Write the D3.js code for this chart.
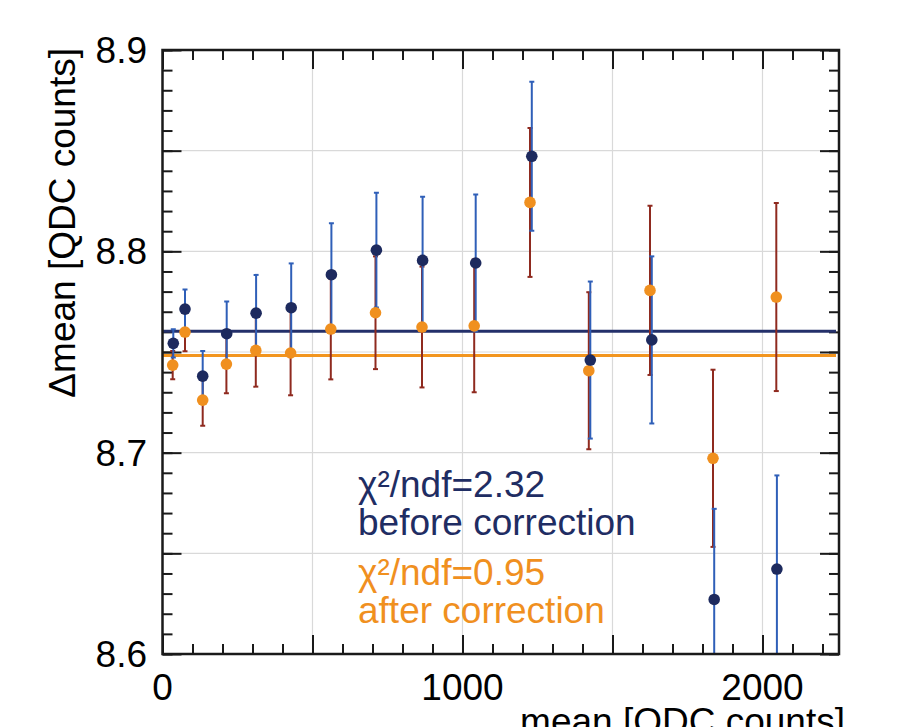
<!DOCTYPE html>
<html>
<head>
<meta charset="utf-8">
<script src="https://cdn.jsdelivr.net/npm/d3@7"></script>
<style>
  html, body { margin: 0; padding: 0; background: #fff; }
  text { font-family: "Liberation Sans", Arial, Helvetica, sans-serif; }
</style>
</head>
<body>
<svg id="chart" width="897" height="727"></svg>
<script>
// ---------------- data ----------------
const beforeX   = [36, 75, 134, 214, 312, 429, 563, 713, 867, 1044, 1231, 1426, 1631, 1839, 2048];
const beforeY   = [8.7543, 8.7713, 8.738, 8.7591, 8.7693, 8.772, 8.7884, 8.8006, 8.7955, 8.7942, 8.8472, 8.746, 8.756, 8.6271, 8.6422];
const beforeErr = [0.007, 0.0098, 0.0125, 0.016, 0.019, 0.022, 0.0255, 0.0285, 0.0316, 0.034, 0.037, 0.039, 0.0415, 0.045, 0.0465];

const afterX    = [34, 75, 134, 213, 311, 427, 561, 710, 865, 1039, 1225, 1421, 1625, 1835, 2046];
const afterY    = [8.7435, 8.7599, 8.7261, 8.744, 8.7508, 8.7495, 8.7614, 8.7695, 8.7624, 8.763, 8.8243, 8.7407, 8.7806, 8.6972, 8.7773];
const afterErr  = [0.007, 0.0095, 0.0127, 0.0145, 0.018, 0.021, 0.025, 0.028, 0.030, 0.033, 0.037, 0.039, 0.042, 0.044, 0.0467];

const fitBefore = 8.7603;
const fitAfter  = 8.7483;

const xDomain = [0, 2255];
const yDomain = [8.6, 8.9];
const xMajorTicks = [0, 500, 1000, 1500, 2000];
const xLabelTicks = [0, 1000, 2000];
const yMajorTicks = [8.6, 8.65, 8.7, 8.75, 8.8, 8.85, 8.9];
const yLabelTicks = [8.6, 8.7, 8.8, 8.9];

const legendLines = [
  { text: "χ²/ndf=2.32", series: "before" },
  { text: "before correction", series: "before" },
  { text: "χ²/ndf=0.95", series: "after" },
  { text: "after correction", series: "after" }
];
const xTitle = "mean [QDC counts]";
const yTitle = "Δmean [QDC counts]";

// ---------------- styles ----------------
const C = {
  beforePt: "#1d2a5e", beforeBar: "#2f5fb8", beforeLine: "#24306a",
  afterPt: "#f0901f", afterBar: "#8f2a1f", afterLine: "#f2951f",
  grid: "#d9d9d9", frame: "#1a1a1a",
  beforeText: "#1f2d63", afterText: "#f0901f"
};

const L = 162.5, R = 839, T = 50, B = 654;
const svg = d3.select("#chart");
const x = d3.scaleLinear().domain(xDomain).range([L, R]);
const y = d3.scaleLinear().domain(yDomain).range([B, T]);

const xMinor = d3.range(0, 2255, 100);
const yMinor = d3.range(0, 31).map(i => +(8.6 + i * 0.01).toFixed(2));

// grid
const g = svg.append("g");
g.selectAll("line.gx").data(xMajorTicks.filter(v => v > 0)).join("line")
  .attr("x1", d => x(d)).attr("x2", d => x(d)).attr("y1", T).attr("y2", B)
  .attr("stroke", C.grid).attr("stroke-width", 1.2);
g.selectAll("line.gy").data(yMajorTicks.filter(v => v > 8.6 && v < 8.9)).join("line")
  .attr("x1", L).attr("x2", R).attr("y1", d => y(d)).attr("y2", d => y(d))
  .attr("stroke", C.grid).attr("stroke-width", 1.2);

// axes (inward ticks)
function styleAxis(sel, w) {
  sel.select(".domain").remove();
  sel.selectAll(".tick line").attr("stroke", C.frame).attr("stroke-width", w);
  sel.selectAll(".tick text").remove();
}
const tickW = 2;
svg.append("g").attr("transform", `translate(${L},0)`)
  .call(d3.axisLeft(y).tickValues(yMinor).tickSize(-10)).call(s => styleAxis(s, tickW));
svg.append("g").attr("transform", `translate(${L},0)`)
  .call(d3.axisLeft(y).tickValues(yMajorTicks).tickSize(-19)).call(s => styleAxis(s, tickW));
svg.append("g").attr("transform", `translate(${R},0)`)
  .call(d3.axisRight(y).tickValues(yMinor).tickSize(-10)).call(s => styleAxis(s, tickW));
svg.append("g").attr("transform", `translate(${R},0)`)
  .call(d3.axisRight(y).tickValues(yMajorTicks).tickSize(-19)).call(s => styleAxis(s, tickW));
svg.append("g").attr("transform", `translate(0,${B})`)
  .call(d3.axisBottom(x).tickValues(xMinor).tickSize(-10)).call(s => styleAxis(s, tickW));
svg.append("g").attr("transform", `translate(0,${B})`)
  .call(d3.axisBottom(x).tickValues(xMajorTicks).tickSize(-19)).call(s => styleAxis(s, tickW));
svg.append("g").attr("transform", `translate(0,${T})`)
  .call(d3.axisTop(x).tickValues(xMinor).tickSize(-10)).call(s => styleAxis(s, tickW));
svg.append("g").attr("transform", `translate(0,${T})`)
  .call(d3.axisTop(x).tickValues(xMajorTicks).tickSize(-19)).call(s => styleAxis(s, tickW));

// tick labels
svg.append("g").selectAll("text").data(yLabelTicks).join("text")
  .attr("x", 147).attr("y", d => y(d)).attr("dy", "0.35em")
  .attr("text-anchor", "end").attr("font-size", 37).attr("fill", "#000")
  .text(d => d3.format(".1f")(d));
svg.append("g").selectAll("text").data(xLabelTicks).join("text")
  .attr("x", d => x(d)).attr("y", 700)
  .attr("text-anchor", "middle").attr("font-size", 37).attr("fill", "#000")
  .text(d => d);

// titles
svg.append("text").attr("x", 845).attr("y", 734).attr("text-anchor", "end")
  .attr("font-size", 37).attr("fill", "#000").text(xTitle);
svg.append("text").attr("transform", "translate(75,48) rotate(-90)")
  .attr("text-anchor", "end").attr("font-size", 37).attr("fill", "#000").text(yTitle);

// clip
svg.append("clipPath").attr("id", "plot").append("rect")
  .attr("x", L).attr("y", T).attr("width", R - L).attr("height", B - T);
const plot = svg.append("g").attr("clip-path", "url(#plot)");

// fit lines
plot.append("line").attr("x1", x(0)).attr("x2", x(2245))
  .attr("y1", y(fitBefore)).attr("y2", y(fitBefore))
  .attr("stroke", C.beforeLine).attr("stroke-width", 3);
plot.append("line").attr("x1", x(0)).attr("x2", x(2245))
  .attr("y1", y(fitAfter)).attr("y2", y(fitAfter))
  .attr("stroke", C.afterLine).attr("stroke-width", 3);

const before = beforeX.map((v, i) => ({ x: v, y: beforeY[i], e: beforeErr[i] }));
const after  = afterX.map((v, i) => ({ x: v, y: afterY[i], e: afterErr[i] }));

function errBars(data, color) {
  const gg = plot.append("g");
  gg.selectAll("line.v").data(data).join("line")
    .attr("x1", d => x(d.x)).attr("x2", d => x(d.x))
    .attr("y1", d => y(d.y - d.e)).attr("y2", d => y(d.y + d.e))
    .attr("stroke", color).attr("stroke-width", 2);
  ["lo", "hi"].forEach(k => {
    gg.selectAll("line." + k).data(data).join("line")
      .attr("x1", d => x(d.x) - 2.5).attr("x2", d => x(d.x) + 2.5)
      .attr("y1", d => y(k === "lo" ? d.y - d.e : d.y + d.e))
      .attr("y2", d => y(k === "lo" ? d.y - d.e : d.y + d.e))
      .attr("stroke", color).attr("stroke-width", 2);
  });
}
errBars(after, C.afterBar);
errBars(before, C.beforeBar);

plot.append("g").selectAll("circle").data(after).join("circle")
  .attr("cx", d => x(d.x)).attr("cy", d => y(d.y)).attr("r", 5.8).attr("fill", C.afterPt);
plot.append("g").selectAll("circle").data(before).join("circle")
  .attr("cx", d => x(d.x)).attr("cy", d => y(d.y)).attr("r", 5.8).attr("fill", C.beforePt);

// frame
svg.append("rect").attr("x", L).attr("y", T).attr("width", R - L).attr("height", B - T)
  .attr("fill", "none").attr("stroke", C.frame).attr("stroke-width", 2.5);

// legend text
const baselines = [497, 535, 585, 623];
svg.append("g").selectAll("text").data(legendLines).join("text")
  .attr("x", 358).attr("y", (d, i) => baselines[i])
  .attr("font-size", 37)
  .attr("fill", d => d.series === "before" ? C.beforeText : C.afterText)
  .text(d => d.text);
</script>
</body>
</html>
